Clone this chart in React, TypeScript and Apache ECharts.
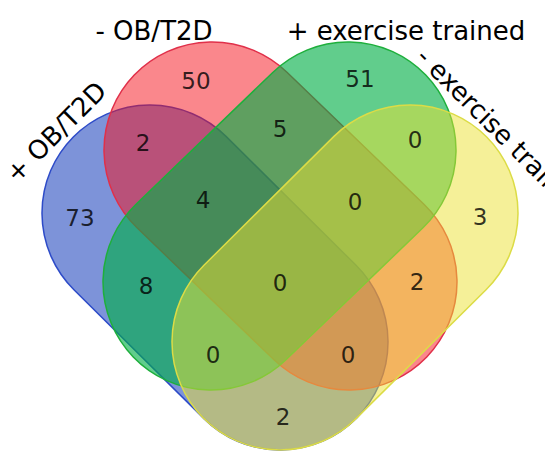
import React, { useEffect, useRef } from "react";
import * as echarts from "echarts";

// ---- data ----
const setNames = ["+ OB/T2D", "- OB/T2D", "+ exercise trained", "- exercise trained"];
// A = +OB/T2D, B = -OB/T2D, C = +exercise trained, D = -exercise trained
const regionKeys = ["A", "B", "C", "D", "AB", "BC", "CD", "ABC", "BCD", "AC", "ABCD", "BD", "ACD", "ABD", "AD"];
const regionCounts = [73, 50, 51, 3, 2, 5, 0, 4, 0, 8, 0, 2, 0, 0, 2];

// ---- layout (in a 545 x 452 value plane) ----
const W = 545;
const H = 452;
const shapeCaps: number[][][] = [
  [[150, 213], [280, 342]],
  [[212, 150], [349, 282]],
  [[348, 150], [211, 282]],
  [[410, 213], [280, 342]],
];
const capRadius = 108;
const shapeFills = [
  "rgba(18,58,185,0.55)",
  "rgba(245,15,25,0.5)",
  "rgba(0,174,69,0.62)",
  "rgba(235,225,50,0.5)",
];
const shapeStrokes = ["#2d4bc8", "#e0304a", "#1eaf3c", "#dcdc46"];
const regionLabelPos: number[][] = [
  [80, 218], [196, 81], [360, 79], [480, 217],
  [143, 143], [280, 129], [415, 140], [203, 200],
  [355, 202], [146, 286], [280, 283], [417, 282],
  [213, 355], [348, 355], [283, 417],
];
const setLabelPos: number[][] = [
  [56, 132, 45],
  [154, 31, 0],
  [406, 31, 0],
  [501, 132, -45],
];

export default function App() {
  const ref = useRef<HTMLDivElement>(null);
  useEffect(() => {
    document.body.style.margin = "0";
    if (!ref.current) return;
    const chart = echarts.init(ref.current, undefined, { renderer: "svg" });
    chart.setOption({
      animation: false,
      backgroundColor: "#ffffff",
      grid: { left: 0, right: 0, top: 0, bottom: 0 },
      xAxis: { type: "value", min: 0, max: W, show: false },
      yAxis: { type: "value", min: 0, max: H, inverse: true, show: false },
      series: [
        {
          type: "custom",
          silent: true,
          data: setNames.map((name, i) => ({ name, value: [i, i] })),
          renderItem: (params: any, api: any) => {
            const i = params.dataIndex;
            const [p1, p2] = shapeCaps[i];
            const a = api.coord(p1);
            const b = api.coord(p2);
            const r = api.size([capRadius, capRadius])[0];
            const mx = (a[0] + b[0]) / 2;
            const my = (a[1] + b[1]) / 2;
            const len = Math.hypot(b[0] - a[0], b[1] - a[1]);
            const ang = Math.atan2(b[1] - a[1], b[0] - a[0]);
            return {
              type: "rect",
              x: mx,
              y: my,
              rotation: -ang,
              z2: i,
              shape: { x: -len / 2 - r, y: -r, width: len + 2 * r, height: 2 * r, r: r },
              style: { fill: shapeFills[i], stroke: shapeStrokes[i], lineWidth: 1.5 },
            };
          },
        },
        {
          type: "scatter",
          z: 10,
          silent: true,
          symbolSize: 1,
          itemStyle: { color: "transparent" },
          data: regionCounts.map((v, i) => ({
            name: regionKeys[i],
            value: [regionLabelPos[i][0], regionLabelPos[i][1], v],
          })),
          label: {
            show: true,
            position: "inside",
            formatter: (p: any) => String(p.value[2]),
            color: "#000",
            fontSize: 23,
            fontFamily: "DejaVu Sans",
          },
        },
      ],
      graphic: setNames.map((n, i) => ({
        type: "text",
        x: setLabelPos[i][0],
        y: setLabelPos[i][1],
        rotation: (setLabelPos[i][2] * Math.PI) / 180,
        silent: true,
        z: 100,
        style: {
          text: n,
          fontSize: 26,
          fontFamily: "DejaVu Sans",
          fill: "#000",
          align: "center",
          verticalAlign: "middle",
          textAlign: "center",
          textVerticalAlign: "middle",
        },
      })),
    });
    return () => chart.dispose();
  }, []);
  return <div ref={ref} style={{ width: W, height: H }} />;
}
